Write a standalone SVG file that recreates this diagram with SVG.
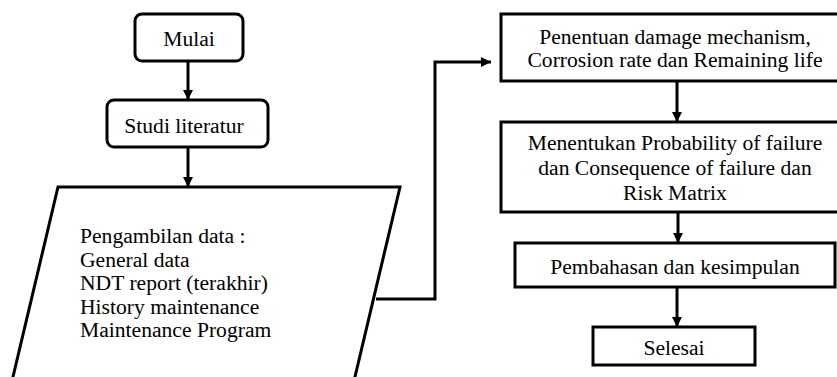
<svg xmlns="http://www.w3.org/2000/svg" width="837" height="377" viewBox="0 0 837 377">
<style>
.box{fill:#fff;stroke:#000;stroke-width:3}
.ln{fill:none;stroke:#000;stroke-width:3}
</style>
<defs>
<marker id="ah" markerUnits="userSpaceOnUse" markerWidth="10" markerHeight="10" viewBox="0 0 10 10" refX="10" refY="5" orient="auto">
<path d="M0,0 L10,5 L0,10 z" fill="#000"/>
</marker>
</defs>
<rect width="837" height="377" fill="#fff"/>
<g id="connectors">
<line class="ln" x1="188" y1="61" x2="188" y2="100" marker-end="url(#ah)"/>
<line class="ln" x1="188" y1="147" x2="188" y2="187" marker-end="url(#ah)"/>
<path class="ln" d="M376,299 H435 V62 H491" marker-end="url(#ah)"/>
<line class="ln" x1="677" y1="81" x2="677" y2="122" marker-end="url(#ah)"/>
<line class="ln" x1="678" y1="212" x2="678" y2="243" marker-end="url(#ah)"/>
<line class="ln" x1="677" y1="287" x2="677" y2="327" marker-end="url(#ah)"/>
</g>
<g font-family="Liberation Serif, Times New Roman, serif" font-size="21.6" fill="#000">
<g id="mulai">
<rect class="box" x="135" y="14" width="108" height="47" rx="7"/>
<text x="189" y="46" text-anchor="middle">Mulai</text>
</g>
<g id="studi">
<rect class="box" x="107" y="100" width="161" height="47" rx="7"/>
<text x="184" y="133" text-anchor="middle">Studi literatur</text>
</g>
<g id="data">
<polygon class="box" points="58,187 400,187 349.5,400 7.5,400"/>
<text x="80" y="243">Pengambilan data :</text>
<text x="80" y="267">General data</text>
<text x="80" y="290">NDT report (terakhir)</text>
<text x="80" y="314">History maintenance</text>
<text x="80" y="337">Maintenance Program</text>
</g>
<g id="penentuan">
<rect class="box" x="501" y="14" width="350" height="67"/>
<text x="675" y="44" text-anchor="middle">Penentuan damage mechanism,</text>
<text x="675" y="67" text-anchor="middle">Corrosion rate dan Remaining life</text>
</g>
<g id="menentukan">
<rect class="box" x="501" y="122" width="350" height="90"/>
<text x="675" y="150" text-anchor="middle">Menentukan Probability of failure</text>
<text x="675" y="175" text-anchor="middle">dan Consequence of failure dan</text>
<text x="675" y="200" text-anchor="middle">Risk Matrix</text>
</g>
<g id="pembahasan">
<rect class="box" x="515" y="243" width="320" height="44"/>
<text x="675" y="274" text-anchor="middle">Pembahasan dan kesimpulan</text>
</g>
<g id="selesai">
<rect class="box" x="593" y="327" width="162" height="38"/>
<text x="674" y="355" text-anchor="middle">Selesai</text>
</g>
</g>
</svg>
